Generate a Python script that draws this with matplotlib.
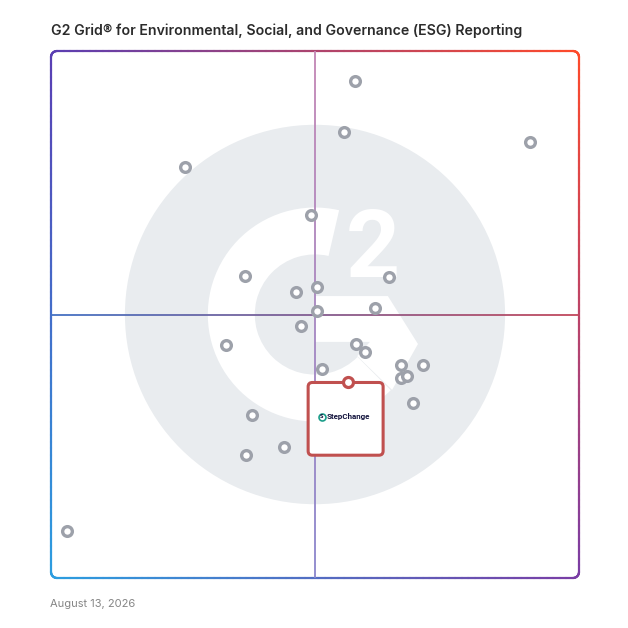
import numpy as np
import matplotlib.pyplot as plt
from matplotlib.collections import LineCollection
from matplotlib.patches import Circle, Wedge, Polygon, FancyBboxPatch
from matplotlib.colors import to_rgb

# grid positions (0-100 in both directions)
market_presence = [57.6, 90.7, 55.4, 25.3, 49.2, 36.7, 64.0, 50.4, 46.4, 61.3,
                   50.3, 47.4, 33.1, 57.8, 59.5, 51.4, 66.3, 70.4, 66.3, 67.5,
                   68.6, 38.0, 44.2, 36.9, 3.0]
satisfaction = [94.3, 82.7, 84.6, 77.9, 68.9, 57.4, 57.1, 55.2, 54.3, 51.3,
                50.6, 47.8, 44.2, 44.4, 42.9, 39.7, 40.4, 40.5, 38.0, 38.3,
                33.2, 31.0, 24.9, 23.3, 8.9]
highlight_name = "StepChange"
highlight_x = 56.2
highlight_y = 37.1

title = "G2 Grid\u00ae for Environmental, Social, and Governance (ESG) Reporting"
date_label = "August 13, 2026"

TL = np.array(to_rgb("#5a3eb3"))
TR = np.array(to_rgb("#ff4a2a"))
BL = np.array(to_rgb("#2c9ee0"))
BR = np.array(to_rgb("#7a3da5"))


def corner_mix(x, y):
    u = np.clip(x / 100, 0, 1)
    v = np.clip(y / 100, 0, 1)
    return (1 - u) * (v * TL + (1 - v) * BL) + u * (v * TR + (1 - v) * BR)


def gradient_line(xs, ys, c0=None, c1=None):
    pts = np.column_stack([xs, ys])
    segs = np.stack([pts[:-1], pts[1:]], axis=1)
    mids = (pts[:-1] + pts[1:]) / 2
    if c0 is None:
        cols = [corner_mix(mx, my) for mx, my in mids]
    else:
        t = np.linspace(0, 1, len(mids))
        a, b = np.array(to_rgb(c0)), np.array(to_rgb(c1))
        cols = [a * (1 - s) + b * s for s in t]
    return segs, cols


fig = plt.figure(figsize=(6.28, 6.28), dpi=100)
ax = fig.add_axes([0, 0, 1, 1])
ax.set_xlim(-51 / 5.28, 577 / 5.28)
ax.set_ylim(-50 / 5.27, 578 / 5.27)
ax.axis("off")

# G2 watermark
ax.add_patch(Circle((50, 50), 36, color="#e9ecef", zorder=1, lw=0))
ax.add_patch(Wedge((50, 50), 20.3, 77, 315, width=8.9, color="white", zorder=2, lw=0))
chevron = [(50.0, 53.5), (63.8, 53.5), (69.5, 44.4), (64.6, 35.7),
           (58.0, 42.1), (60.4, 44.8), (50.0, 44.8)]
ax.add_patch(Polygon(chevron, closed=True, color="white", zorder=2, lw=0))
ax.text(61.0, 62.0, "2", color="white", fontsize=68, fontweight="bold",
        family="Roboto", ha="center", va="center", zorder=2)

# rounded gradient border
r = 1.15
n = 80
xs, ys = [], []
xs += list(np.linspace(r, 100 - r, n)); ys += [100] * n
a = np.linspace(np.pi / 2, 0, 20)
xs += list(100 - r + r * np.cos(a)); ys += list(100 - r + r * np.sin(a))
xs += [100] * n; ys += list(np.linspace(100 - r, r, n))
a = np.linspace(0, -np.pi / 2, 20)
xs += list(100 - r + r * np.cos(a)); ys += list(r + r * np.sin(a))
xs += list(np.linspace(100 - r, r, n)); ys += [0] * n
a = np.linspace(-np.pi / 2, -np.pi, 20)
xs += list(r + r * np.cos(a)); ys += list(r + r * np.sin(a))
xs += [0] * n; ys += list(np.linspace(r, 100 - r, n))
a = np.linspace(np.pi, np.pi / 2, 20)
xs += list(r + r * np.cos(a)); ys += list(100 - r + r * np.sin(a))
segs, cols = gradient_line(np.array(xs), np.array(ys))
ax.add_collection(LineCollection(segs, colors=cols, linewidths=1.6,
                                 capstyle="round", zorder=3))

# quadrant lines
t = np.linspace(0, 100, 200)
segs, cols = gradient_line(np.full_like(t, 50), t[::-1], "#c386b4", "#8a86cc")
ax.add_collection(LineCollection(segs, colors=cols, linewidths=1.3, zorder=3))
segs, cols = gradient_line(t, np.full_like(t, 50), "#4472c4", "#c2485c")
ax.add_collection(LineCollection(segs, colors=cols, linewidths=1.3, zorder=3))

# products
ax.plot(market_presence, satisfaction, "o", ms=7.0, mfc="white", mec="#9da1aa",
        mew=2.4, ls="none", zorder=4)

# highlighted product card
box = FancyBboxPatch((highlight_x - 7.5, highlight_y - 13.8), 14.2, 13.8,
                     boxstyle="round,pad=0,rounding_size=0.8", fc="white",
                     ec="#c0504f", lw=2.2, zorder=5)
ax.add_patch(box)
ax.plot([highlight_x], [highlight_y], "o", ms=7.2, mfc="white", mec="#c0504f",
        mew=2.3, zorder=6)
ax.plot([highlight_x - 4.9], [highlight_y - 6.5], "o", ms=5, mfc="white",
        mec="#1c9e8a", mew=1.2, zorder=6)
ax.text(highlight_x - 4.9, highlight_y - 6.5, "S", fontsize=3.5, fontweight="bold",
        color="#15163f", ha="center", va="center", zorder=7)
ax.text(highlight_x - 3.9, highlight_y - 6.5, highlight_name, fontsize=5.8,
        fontweight="bold", color="#15163f", ha="left", va="center",
        family="Roboto", zorder=7)

ax.text(0, 103.9, title, fontsize=10.2, fontweight="semibold", color="#2b2b2b",
        family="Inter", ha="left", va="center")
ax.text(-0.1, -4.9, date_label, fontsize=8, color="#858585", family="Inter",
        ha="left", va="center")

plt.savefig("out.png", dpi=100)
